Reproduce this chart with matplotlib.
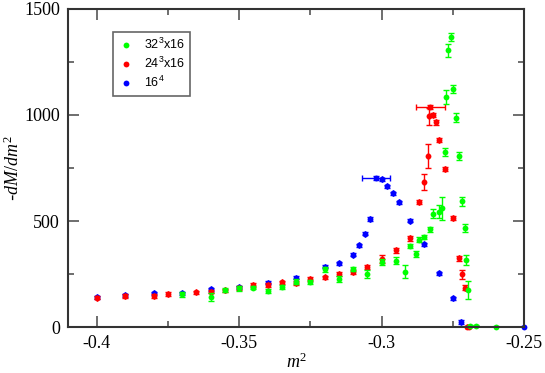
import matplotlib
matplotlib.use('Agg')
import matplotlib.pyplot as plt
from matplotlib.ticker import MultipleLocator

plt.rcParams['mathtext.fontset'] = 'custom'
plt.rcParams['mathtext.rm'] = 'Liberation Serif'
plt.rcParams['mathtext.it'] = 'Liberation Serif:italic'

# --- data (m^2, -dM/dm^2, error) ---
# 16^4 lattice
x16 = [-0.4, -0.39, -0.38, -0.37, -0.36, -0.35, -0.34, -0.33, -0.32, -0.315,
       -0.31, -0.308, -0.306, -0.304, -0.302, -0.3, -0.298, -0.296, -0.294,
       -0.29, -0.285, -0.28, -0.275, -0.272, -0.25]
y16 = [140, 150, 159, 159, 178, 187, 209, 233, 284, 300,
       342, 385, 441, 508, 703, 697, 663, 631, 588,
       501, 390, 253, 135, 24, 0]
e16 = [8, 8, 8, 8, 8, 8, 8, 8, 8, 8,
       8, 8, 8, 10, 8, 8, 8, 8, 8,
       8, 8, 8, 8, 8, 4]
xe16 = [0, 0, 0, 0, 0, 0, 0, 0, 0, 0,
        0, 0, 0, 0, 0.005, 0, 0, 0, 0,
        0, 0, 0, 0, 0, 0]

# 24^3 x 16 lattice
x24 = [-0.4, -0.39, -0.38, -0.375, -0.365, -0.36, -0.355, -0.35, -0.345, -0.34,
       -0.335, -0.33, -0.325, -0.32, -0.315, -0.31, -0.305, -0.3, -0.295, -0.29,
       -0.287, -0.285, -0.2838, -0.2833, -0.2829, -0.2819, -0.2808, -0.2798,
       -0.2778, -0.2749, -0.2727, -0.2718, -0.2708, -0.2699, -0.2694]
y24 = [138, 147, 146, 156, 164, 167, 173, 184, 198, 198,
       211, 206, 226, 234, 250, 259, 282, 321, 363, 418,
       591, 685, 806, 994, 1039, 1001, 966, 883,
       744, 514, 325, 248, 186, 2, 0]
e24 = [8, 8, 10, 10, 8, 8, 8, 8, 8, 8,
       8, 10, 8, 8, 8, 8, 10, 18, 12, 10,
       10, 37, 57, 40, 10, 10, 12, 10,
       10, 10, 12, 22, 12, 4, 4]
xe24 = [0] * 24 + [0.005] + [0] * 10

# 32^3 x 16 lattice
x32 = [-0.37, -0.36, -0.355, -0.35, -0.345, -0.34, -0.335, -0.33, -0.325, -0.32,
       -0.315, -0.31, -0.305, -0.3, -0.295, -0.2919, -0.2899, -0.2879, -0.2869,
       -0.285, -0.2829, -0.2819, -0.2799, -0.2789, -0.2778, -0.2773, -0.2768,
       -0.2758, -0.2749, -0.2738, -0.2729, -0.2718, -0.2708, -0.2703, -0.2698,
       -0.2689, -0.2668, -0.2597]
y32 = [154, 143, 173, 183, 185, 170, 187, 214, 214, 272,
       228, 272, 250, 308, 313, 261, 383, 345, 412,
       426, 461, 534, 544, 560, 825, 1085, 1305,
       1369, 1124, 987, 807, 592, 467, 316, 175,
       6, 7, 0]
e32 = [12, 18, 10, 12, 8, 8, 10, 12, 10, 12,
       14, 10, 20, 14, 16, 31, 10, 14, 12,
       10, 12, 22, 30, 55, 20, 33, 32,
       20, 18, 22, 18, 20, 18, 22, 42,
       4, 4, 4]

fig = plt.figure(figsize=(5.45, 3.73), dpi=100)
ax = fig.add_axes([0.1253, 0.1233, 0.8362, 0.8526])

# blue first, then red, green on top
series = [
    (x16, y16, e16, xe16, '#0000ff', '16$^4$'),
    (x24, y24, e24, xe24, '#ff0000', '24$^3$x16'),
    (x32, y32, e32, None, '#00ff00', '32$^3$x16'),
]
handles = {}
for xs, ys, es, xes, col, lab in series:
    ax.errorbar(xs, ys, yerr=es, xerr=xes, fmt='none', ecolor=col,
                elinewidth=1, capsize=2.5, capthick=1)
    h, = ax.plot(xs, ys, 'o', color=col, markersize=4.2, markeredgewidth=0,
                 label=lab, clip_on=False)
    handles[lab] = h

ax.set_xlim(-0.41, -0.25)
ax.set_ylim(0, 1500)
ax.xaxis.set_minor_locator(MultipleLocator(0.025))
ax.yaxis.set_major_locator(MultipleLocator(500))
ax.yaxis.set_minor_locator(MultipleLocator(250))
ax.set_xticks([-0.4, -0.35, -0.3, -0.25])
ax.set_xticklabels(['-0.4', '-0.35', '-0.3', '-0.25'])

serif = 'Liberation Serif'
for lbl in ax.get_xticklabels() + ax.get_yticklabels():
    lbl.set_family(serif)
    lbl.set_fontsize(13)

ax.tick_params(which='both', direction='in', top=True, right=True,
               color='#555555', width=1.2)
ax.tick_params(which='major', length=8, pad=6)
ax.tick_params(which='minor', length=4)
for s in ax.spines.values():
    s.set_linewidth(1.5)
    s.set_color('#333333')

ax.set_xlabel(r'$m^2$', fontsize=13, labelpad=0)
ax.set_ylabel(r'-$dM/dm^2$', fontsize=13, labelpad=1)

order = ['32$^3$x16', '24$^3$x16', '16$^4$']
leg = ax.legend([handles[k] for k in order], [r'$\mathregular{' + k.replace('$', '') + '}$' for k in order],
                loc='upper left', bbox_to_anchor=(0.098, 0.929), numpoints=1,
                prop={'family': 'Liberation Sans', 'size': 9}, fancybox=False,
                edgecolor='#666666', framealpha=1, handlelength=1.2,
                handletextpad=0.8, borderpad=0.45, labelspacing=0.3,
                borderaxespad=0)
leg.get_frame().set_linewidth(1.2)

plt.savefig('out.png', dpi=100)
